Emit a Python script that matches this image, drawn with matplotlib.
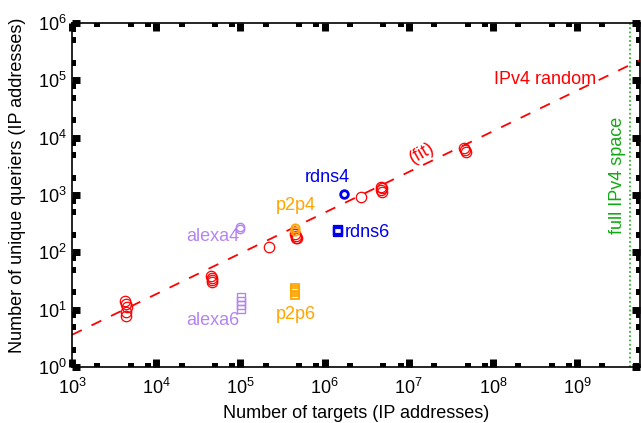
import matplotlib
matplotlib.use("Agg")
import matplotlib.pyplot as plt
from matplotlib.ticker import FixedLocator, NullFormatter, LogFormatterSciNotation
import numpy as np

plt.rcParams['font.family'] = ['Liberation Sans', 'DejaVu Sans']
plt.rcParams['mathtext.default'] = 'regular'
plt.rcParams['font.size'] = 13

# IPv4 random targets
rand_x = [4.3e3, 4.4e3, 4.5e3, 4.4e3, 4.35e3,
          4.5e4, 4.6e4, 4.55e4, 4.6e4,
          2.2e5,
          4.5e5, 4.6e5, 4.7e5, 4.55e5,
          2.7e6,
          4.7e6, 4.8e6, 4.75e6, 4.8e6,
          4.6e7, 4.7e7, 4.75e7]
rand_y = [14, 12.5, 11, 9, 7.8,
          38, 35, 33, 30,
          125,
          205, 190, 180, 175,
          920,
          1400, 1300, 1200, 1150,
          6500, 6000, 5600]

alexa4_x = [1.0e5, 1.0e5]
alexa4_y = [280, 255]
alexa6_x = [1.02e5, 1.02e5, 1.02e5, 1.02e5]
alexa6_y = [16.5, 14, 12, 10.2]
p2p4_x = [4.5e5, 4.5e5]
p2p4_y = [265, 235]
p2p6_x = [4.5e5, 4.5e5, 4.5e5, 4.5e5]
p2p6_y = [24, 22, 20, 18]
rdns4_x = [1.7e6]
rdns4_y = [1050]
rdns6_x = [1.45e6, 1.45e6, 1.45e6]
rdns6_y = [250, 235, 225]

# power-law fit  y = a * x^b
fit_a = 0.027
fit_b = 0.71
full_ipv4 = 2 ** 32

xlim = (1e3, 5.6e9)
ylim = (1, 1e6)
x_major = [1e3, 1e4, 1e5, 1e6, 1e7, 1e8, 1e9]
y_major = [1e0, 1e1, 1e2, 1e3, 1e4, 1e5, 1e6]
minor_subs = [2, 5, 8]

red = '#ff0000'
lav = '#b585ef'
orange = '#ffa500'
blue = '#0000ee'
green = '#11aa11'

fig = plt.figure(figsize=(6.41, 4.23), dpi=100)
ax = fig.add_axes([72/641, 56/423, 568/641, 344/423])
ax.set_xscale('log')
ax.set_yscale('log')
ax.set_xlim(*xlim)
ax.set_ylim(*ylim)

fx = np.logspace(np.log10(xlim[0]), np.log10(xlim[1]), 50)
ax.plot(fx, fit_a * fx ** fit_b, color=red, lw=1.3, ls=(0, (6, 6)))
ax.axvline(full_ipv4, color=green, lw=1.1, ls=(0, (1.2, 1.6)))

ax.plot(rand_x, rand_y, 'o', mfc='none', mec=red, ms=7.5, mew=0.9)
ax.plot(alexa4_x, alexa4_y, 'o', mfc='none', mec=lav, ms=6, mew=1.0)
ax.plot(alexa6_x, alexa6_y, 's', mfc='none', mec=lav, ms=5.5, mew=1.0)
ax.plot(p2p4_x, p2p4_y, 'o', mfc='none', mec=orange, ms=6, mew=1.3)
ax.plot(p2p6_x, p2p6_y, 's', mfc='none', mec=orange, ms=5.5, mew=1.3)
ax.plot(rdns4_x, rdns4_y, 'o', mfc='none', mec=blue, ms=5.5, mew=2)
ax.plot(rdns6_x, rdns6_y, 's', mfc='none', mec=blue, ms=5.5, mew=1.6)

ax.text(1.07e6, 2000, 'rdns4', color=blue, ha='center', va='center')
ax.text(1.74e6, 218, 'rdns6', color=blue, ha='left', va='center')
ax.text(4.54e5, 645, 'p2p4', color=orange, ha='center', va='center')
ax.text(4.54e5, 8.4, 'p2p6', color=orange, ha='center', va='center')
ax.text(4.7e4, 186, 'alexa4', color=lav, ha='center', va='center')
ax.text(4.7e4, 6.6, 'alexa6', color=lav, ha='center', va='center')
ax.text(4.2e8, 1.02e5, 'IPv4 random', color=red, ha='center', va='center')
ax.text(1.44e7, 5400, '(fit)', color=red, ha='center', va='center', rotation=30)
ax.text(3.06e9, 2240, 'full IPv4 space', color=green, ha='center', va='center', rotation=90)

def minors(majors, lo, hi):
    out = []
    for m in majors[:-1] + [majors[-1]]:
        for s in minor_subs:
            v = m * s
            if lo < v < hi:
                out.append(v)
    return out

ax.xaxis.set_major_locator(FixedLocator(x_major))
ax.yaxis.set_major_locator(FixedLocator(y_major))
ax.xaxis.set_minor_locator(FixedLocator(minors(x_major, *xlim)))
ax.yaxis.set_minor_locator(FixedLocator(minors(y_major, *ylim)))
for axis in (ax.xaxis, ax.yaxis):
    axis.set_major_formatter(LogFormatterSciNotation())
    axis.set_minor_formatter(NullFormatter())

ax.tick_params(which='both', direction='in', top=True, right=True, colors='black')
ax.tick_params(which='major', length=5.8, width=5)
ax.tick_params(which='minor', length=3, width=4.3)
ax.tick_params(axis='x', which='major', pad=8)
ax.tick_params(axis='y', which='major', pad=4)
for s in ax.spines.values():
    s.set_linewidth(1.2)

fig.text(356/641, 1 - 418/423, 'Number of targets (IP addresses)', ha='center', va='baseline')
fig.text(18/641, 1 - 185/423, 'Number of unique queriers (IP addresses)', ha='center', va='center', rotation=90)

fig.savefig('out.png', dpi=100)
